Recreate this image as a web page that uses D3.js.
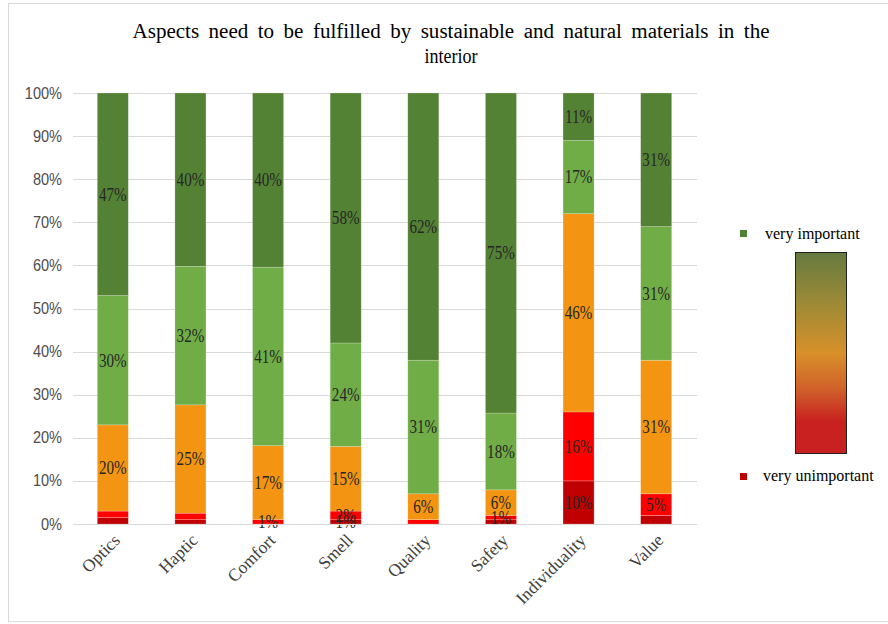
<!DOCTYPE html>
<html>
<head>
<meta charset="utf-8">
<script src="https://cdn.jsdelivr.net/npm/d3@7"></script>
<style>
  html, body { margin: 0; padding: 0; background: #fff; }
  svg { display: block; }
</style>
</head>
<body>
<svg id="chart" width="888" height="624"></svg>
<script>
// Survey answers per aspect, in percent of respondents
const categories = ["Optics", "Haptic", "Comfort", "Smell", "Quality", "Safety", "Individuality", "Value"];
const veryUnimportant = [1.5, 1, 0, 1, 0, 1, 10, 2];
const unimportant     = [1.5, 1.5, 1, 2, 1, 1, 16, 5];
const neutral         = [20, 25, 17, 15, 6, 6, 46, 31];
const important       = [30, 32, 41, 24, 31, 18, 17, 31];
const veryImportant   = [47, 40, 40, 58, 62, 75, 11, 31];
const yTicks = [0, 10, 20, 30, 40, 50, 60, 70, 80, 90, 100];

// Segments drawn without a value label
const unlabeled = [
  ["Optics", "veryUnimportant"], ["Optics", "unimportant"],
  ["Haptic", "veryUnimportant"], ["Haptic", "unimportant"],
  ["Quality", "unimportant"], ["Safety", "veryUnimportant"],
  ["Value", "veryUnimportant"]
];

const seriesKeys = ["veryUnimportant", "unimportant", "neutral", "important", "veryImportant"];
const seriesValues = { veryUnimportant, unimportant, neutral, important, veryImportant };
const colors = {
  veryUnimportant: "#C00000",
  unimportant: "#FF0000",
  neutral: "#F39512",
  important: "#70AD47",
  veryImportant: "#548235"
};

const rows = categories.map((c, i) => {
  const r = { category: c };
  seriesKeys.forEach(k => r[k] = seriesValues[k][i]);
  return r;
});

const svg = d3.select("#chart");

// chart frame
svg.append("rect")
  .attr("x", 8.5).attr("y", 3.5).attr("width", 890).attr("height", 618)
  .attr("fill", "#fff").attr("stroke", "#d9d9d9").attr("stroke-width", 1);

const x = d3.scaleBand().domain(categories).range([74, 695]).paddingInner(0.6).paddingOuter(0.3);
const y = d3.scaleLinear().domain([0, 1]).range([524, 93]);

// gridlines
const grid = svg.append("g");
grid.selectAll("line").data(yTicks).join("line")
  .attr("x1", 73).attr("x2", 697)
  .attr("y1", d => Math.round(y(d / 100)) + 0.5)
  .attr("y2", d => Math.round(y(d / 100)) + 0.5)
  .attr("stroke", "#d9d9d9").attr("stroke-width", 1);

// y axis labels
const yAxis = d3.axisLeft(y)
  .tickValues(yTicks.map(t => t / 100))
  .tickFormat(d => Math.round(d * 100) + "%")
  .tickSize(0).tickPadding(0);
const yg = svg.append("g").attr("transform", "translate(62,0)").call(yAxis);
yg.select(".domain").remove();
yg.selectAll("text")
  .attr("font-family", "'Liberation Sans', Arial, sans-serif")
  .attr("font-size", 15).attr("fill", "#4d4d4d")
  .attr("transform", "scale(0.97,1.05)");

// stacked bars, normalised to 100%
const stack = d3.stack().keys(seriesKeys).offset(d3.stackOffsetExpand);
const stacked = stack(rows);

const barG = svg.append("g");
stacked.forEach(layer => {
  barG.append("g").attr("fill", colors[layer.key])
    .selectAll("rect").data(layer).join("rect")
    .attr("x", d => x(d.data.category))
    .attr("width", x.bandwidth())
    .attr("y", d => y(d[1]))
    .attr("height", d => Math.max(0, y(d[0]) - y(d[1])))
    .attr("stroke", "rgba(255,255,255,0.35)").attr("stroke-width", 0.6);
});

// value labels
const isUnlabeled = (c, k) => unlabeled.some(u => u[0] === c && u[1] === k);
const labelG = svg.append("g")
  .attr("font-family", "'Liberation Serif', 'Times New Roman', serif")
  .attr("font-size", 18).attr("fill", "#262626").attr("text-anchor", "middle");
stacked.forEach(layer => {
  layer.forEach(d => {
    const c = d.data.category;
    const v = d.data[layer.key];
    if (!v || isUnlabeled(c, layer.key)) return;
    const cx = x(c) + x.bandwidth() / 2;
    const cy = (y(d[0]) + y(d[1])) / 2;
    labelG.append("text")
      .attr("transform", `translate(${cx},${cy}) scale(0.84,1)`)
      .attr("dy", "0.35em")
      .text(Math.round(v) + "%");
  });
});

// x axis line
svg.append("line")
  .attr("x1", 73).attr("x2", 697).attr("y1", 524.5).attr("y2", 524.5)
  .attr("stroke", "#d9d9d9");

// category labels, rotated
const xAxis = d3.axisBottom(x).tickSize(0).tickPadding(0);
const xg = svg.append("g").attr("transform", "translate(0,535)").call(xAxis);
xg.select(".domain").remove();
xg.selectAll("text")
  .attr("font-family", "'Liberation Serif', 'Times New Roman', serif")
  .attr("font-size", 17.5).attr("fill", "#404040")
  .attr("text-anchor", "end")
  .attr("dy", "0.35em")
  .attr("transform", "translate(4,2) rotate(-45)");

// title
const title = svg.append("g")
  .attr("font-family", "'Liberation Serif', 'Times New Roman', serif")
  .attr("font-size", 20).attr("fill", "#000").attr("text-anchor", "middle");
title.append("text").attr("x", 451).attr("y", 38)
  .attr("textLength", 637).attr("lengthAdjust", "spacingAndGlyphs")
  .attr("word-spacing", 4)
  .text("Aspects need to be fulfilled by sustainable and natural materials in the");
title.append("text").attr("x", 451).attr("y", 63)
  .attr("transform", "translate(451,0) scale(0.9,1) translate(-451,0)")
  .text("interior");

// legend
const defs = svg.append("defs");
const grad = defs.append("linearGradient").attr("id", "scaleGrad")
  .attr("x1", 0).attr("y1", 0).attr("x2", 0).attr("y2", 1);
[[0, "#657A3F"], [0.25, "#9C8A36"], [0.5, "#D8902A"], [0.68, "#D0602A"], [0.84, "#C82220"], [1, "#C81F20"]]
  .forEach(([o, c]) => grad.append("stop").attr("offset", o).attr("stop-color", c));

const legend = svg.append("g")
  .attr("font-family", "'Liberation Serif', 'Times New Roman', serif")
  .attr("font-size", 16).attr("fill", "#000");
legend.append("rect").attr("x", 740).attr("y", 230).attr("width", 7).attr("height", 7)
  .attr("fill", colors.veryImportant);
legend.append("text").attr("x", 765).attr("y", 239).text("very important");
legend.append("rect").attr("x", 795.5).attr("y", 252.5).attr("width", 51).attr("height", 201)
  .attr("fill", "url(#scaleGrad)").attr("stroke", "#222").attr("stroke-width", 1);
legend.append("rect").attr("x", 740).attr("y", 473).attr("width", 7).attr("height", 7)
  .attr("fill", colors.veryUnimportant);
legend.append("text").attr("x", 763).attr("y", 481).text("very unimportant");
</script>
</body>
</html>
